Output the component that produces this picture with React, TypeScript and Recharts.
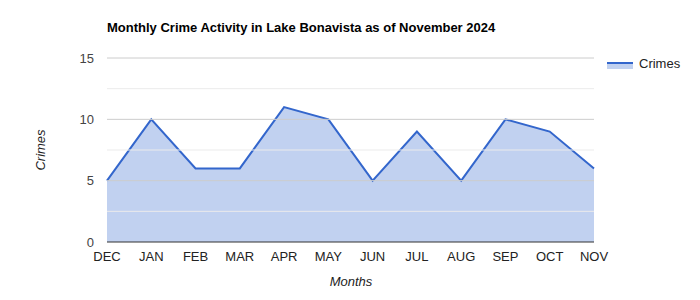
import { AreaChart, Area, XAxis, YAxis, ReferenceLine } from 'recharts';

const MONTHS = ['DEC', 'JAN', 'FEB', 'MAR', 'APR', 'MAY', 'JUN', 'JUL', 'AUG', 'SEP', 'OCT', 'NOV'];
const CRIMES = [5, 10, 6, 6, 11, 10, 5, 9, 5, 10, 9, 6];
const Y_TICKS = [0, 5, 10, 15];
const MINOR_LINES = [2.5, 7.5, 12.5];

const data = MONTHS.map((m, i) => ({ month: m, crimes: CRIMES[i] }));

const BLUE = '#3366cc';
const FONT = 'Arial, "Liberation Sans", sans-serif';

function LegendBox() {
  return (
    <div
      style={{
        position: 'absolute', left: 607, top: 56, display: 'flex', alignItems: 'center',
        fontFamily: FONT, fontSize: 13, color: '#222',
      }}
    >
      <svg width={26} height={10} style={{ marginRight: 6 }}>
        <rect x={0} y={4} width={26} height={6} fill={BLUE} fillOpacity={0.3} />
        <line x1={0} y1={4} x2={26} y2={4} stroke={BLUE} strokeWidth={2} />
      </svg>
      <span>Crimes</span>
    </div>
  );
}

export default function App() {
  return (
    <div style={{ position: 'relative', width: 700, height: 300, margin: -8, background: '#fff' }}>
      <AreaChart
        width={700}
        height={300}
        data={data}
        margin={{ top: 58, right: 106, bottom: 0, left: 0 }}
        style={{ position: 'absolute', left: 0, top: 0 }}
      >
        {MINOR_LINES.map((v) => (
          <ReferenceLine key={'m' + v} y={v} stroke="#ebebeb" strokeWidth={1} />
        ))}
        {Y_TICKS.filter((v) => v !== 0).map((v) => (
          <ReferenceLine key={'g' + v} y={v} stroke="#cccccc" strokeWidth={1} />
        ))}
        <XAxis
          dataKey="month"
          interval={0}
          tickLine={false}
          axisLine={false}
          tickSize={0}
          tickMargin={10}
          height={58}
          tick={{ fontFamily: FONT, fontSize: 13, fill: '#222' }}
        />
        <YAxis
          domain={[0, 15]}
          ticks={Y_TICKS}
          width={107}
          tickLine={false}
          axisLine={false}
          tickSize={0}
          tickMargin={13}
          tick={{ fontFamily: FONT, fontSize: 13, fill: '#444' }}
        />
        <Area
          type="linear"
          dataKey="crimes"
          name="Crimes"
          stroke={BLUE}
          strokeWidth={2}
          fill={BLUE}
          fillOpacity={0.3}
          dot={false}
          activeDot={false}
          isAnimationActive={false}
        />
        <ReferenceLine y={0} stroke="#333333" strokeWidth={1} />
      </AreaChart>
      <div
        style={{
          position: 'absolute', left: 107, top: 20, fontFamily: FONT, fontSize: 13,
          fontWeight: 'bold', color: '#000', whiteSpace: 'nowrap',
        }}
      >
        Monthly Crime Activity in Lake Bonavista as of November 2024
      </div>
      <div
        style={{
          position: 'absolute', left: 40, top: 150, fontFamily: FONT, fontSize: 13, fontStyle: 'italic',
          color: '#222', transform: 'translate(-50%, -50%) rotate(-90deg)', whiteSpace: 'nowrap',
        }}
      >
        Crimes
      </div>
      <div
        style={{
          position: 'absolute', left: 351, top: 281, fontFamily: FONT, fontSize: 13, fontStyle: 'italic',
          color: '#222', transform: 'translate(-50%, -50%)', whiteSpace: 'nowrap',
        }}
      >
        Months
      </div>
      <LegendBox />
    </div>
  );
}
